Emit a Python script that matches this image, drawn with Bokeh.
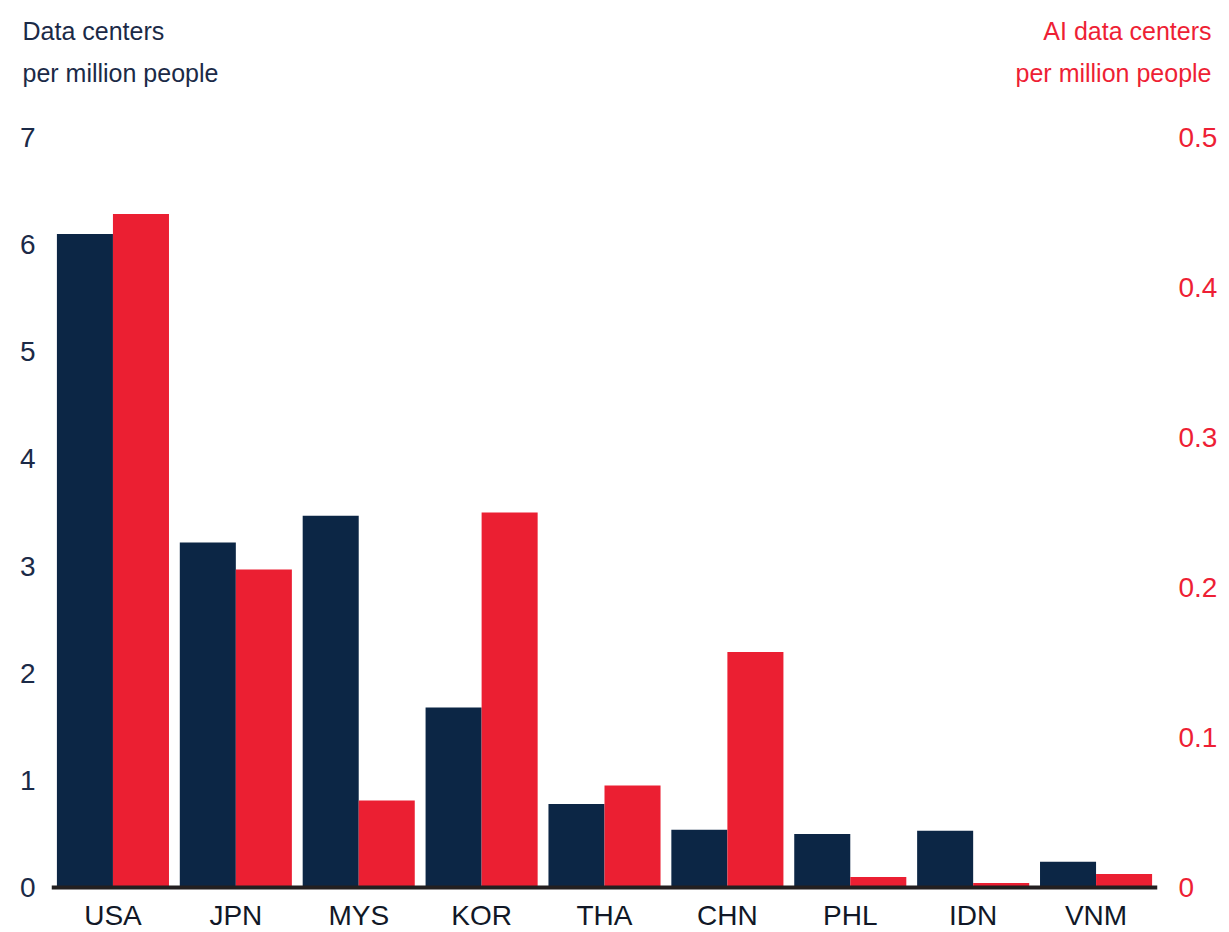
from bokeh.plotting import figure
from bokeh.models import Range1d, LinearAxis, FactorRange, Label, FixedTicker, ColumnDataSource, Span
from bokeh.transform import dodge
from bokeh.core.properties import value
from bokeh.embed import file_html
from bokeh.resources import INLINE

countries = ["USA", "JPN", "MYS", "KOR", "THA", "CHN", "PHL", "IDN", "VNM"]
dc_per_million = [6.1, 3.22, 3.47, 1.68, 0.78, 0.54, 0.50, 0.53, 0.24]
ai_dc_per_million = [0.449, 0.212, 0.058, 0.250, 0.068, 0.157, 0.007, 0.003, 0.009]
left_ticks = [0, 1, 2, 3, 4, 5, 6, 7]
right_ticks = [0, 0.1, 0.2, 0.3, 0.4, 0.5]
left_title = ["Data centers", "per million people"]
right_title = ["AI data centers", "per million people"]

NAVY = "#0c2645"
RED = "#eb1f32"
TEXT_NAVY = "#1b2a47"
TEXT_RED = "#ee1f35"
FONT = "Liberation Sans"

W = 1221
TOP_H = 100          # header strip holding the two axis titles
H = 930 - TOP_H      # main chart height
FRAME_L, FRAME_R = 51, 1157
Y0_PX, Y7_PX = 887 - TOP_H, 137 - TOP_H
px_per_unit = (Y0_PX - Y7_PX) / 7.0
y_end = 7 + Y7_PX / px_per_unit
y_start = -(H - Y0_PX) / px_per_unit
k = 0.5 / 7

# ---------- header with axis titles ----------
head = figure(width=W, height=TOP_H, x_range=Range1d(0, W), y_range=Range1d(TOP_H, 0),
              x_axis_location=None, y_axis_location=None,
              output_backend="svg", toolbar_location=None,
              min_border_left=0, min_border_right=0, min_border_top=0, min_border_bottom=0)
head.outline_line_color = None
head.xgrid.visible = False
head.ygrid.visible = False
title_kw = dict(text_font=FONT, text_font_size="25px", text_baseline="alphabetic")
for txt, yy in zip(left_title, [30, 72]):
    head.add_layout(Label(x=22, y=yy, text=txt, text_align="left", text_color=TEXT_NAVY, **title_kw))
for txt, yy in zip(right_title, [30, 72]):
    head.add_layout(Label(x=1211, y=yy, text=txt, text_align="right", text_color=TEXT_RED, **title_kw))

# ---------- main chart ----------
src = ColumnDataSource(dict(country=countries, dc=dc_per_million, ai=ai_dc_per_million))

p = figure(width=W, height=H,
           x_range=FactorRange(*countries, range_padding=0),
           y_range=Range1d(y_start, y_end),
           x_axis_location=None,
           output_backend="svg", toolbar_location=None,
           min_border_left=FRAME_L, min_border_right=W - FRAME_R,
           min_border_top=0, min_border_bottom=0)
p.extra_y_ranges = {"ai": Range1d(y_start * k, y_end * k)}

p.vbar(x=dodge("country", -0.228, range=p.x_range), top="dc", bottom=0, width=0.456,
       source=src, fill_color=NAVY, line_color=None)
p.vbar(x=dodge("country", 0.228, range=p.x_range), top="ai", bottom=0, width=0.456,
       source=src, fill_color=RED, line_color=None, y_range_name="ai")

# baseline axis line
p.add_layout(Span(location=0, dimension="width", line_width=4, line_color="#231f20"))

# category labels
p.text(x="country", y=0, text="country", source=src, y_offset=28,
       text_align="center", text_baseline="middle",
       text_font=value(FONT), text_font_size="28px", text_color="#111827")

p.outline_line_color = None
p.xgrid.visible = False
p.ygrid.visible = False

ya = p.yaxis[0]
ya.ticker = FixedTicker(ticks=left_ticks)
ya.axis_line_color = None
ya.major_tick_line_color = None
ya.minor_tick_line_color = None
ya.major_label_text_font = FONT
ya.major_label_text_font_size = "28px"
ya.major_label_text_color = TEXT_NAVY
ya.major_label_standoff = 10

ra = LinearAxis(y_range_name="ai", ticker=FixedTicker(ticks=right_ticks))
ra.axis_line_color = None
ra.major_tick_line_color = None
ra.minor_tick_line_color = None
ra.major_label_text_font = FONT
ra.major_label_text_font_size = "28px"
ra.major_label_text_color = TEXT_RED
ra.major_label_standoff = 15
ra.major_label_overrides = {0: "0"}
p.add_layout(ra, "right")

open("out.html", "w").write(file_html([head, p], INLINE))
